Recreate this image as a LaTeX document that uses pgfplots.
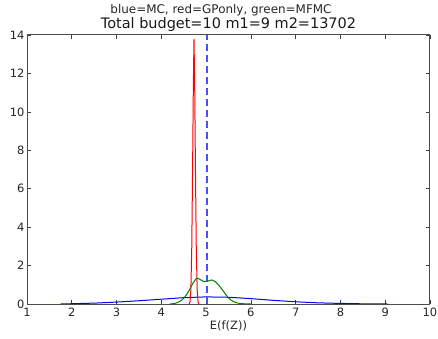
\documentclass[border=0pt]{standalone}
\usepackage{pgfplots}
\pgfplotsset{compat=1.18}
\usepackage{fontspec}
\setmainfont{DejaVu Sans}
\definecolor{mplgreen}{rgb}{0,0.5,0}
\definecolor{mplblue}{rgb}{0,0,1}
\definecolor{dashblue}{rgb}{0.3,0.3,1}
\begin{document}
\begin{tikzpicture}
\begin{axis}[
  at={(27bp,35bp)}, anchor=south west,
  scale only axis, width=403bp, height=269bp,
  xmin=1, xmax=10, ymin=0, ymax=14,
  xtick={1,2,...,10}, ytick={0,2,...,14},
  tick align=inside, major tick length=4bp,
  xtick pos=both, ytick pos=both,
  tick style={black!75, line width=0.6bp},
  axis line style={black!70, line width=1bp},
  /pgf/number format/assume math mode=true,
  tick label style={font=\fontsize{11.5}{13}\selectfont, text=black!85},
  xticklabel style={yshift=-0.5bp},
  yticklabel style={xshift=1bp},
  xlabel={E(f(Z))},
  xlabel style={font=\fontsize{11.5}{13}\selectfont, text=black!85, yshift=3bp},
  title={Total budget=10 m1=9 m2=13702},
  title style={font=\fontsize{14.5}{16}\selectfont, text=black!90, at={(0.5,1)}, anchor=base, yshift=0.5bp},
  clip=true,
]
\addplot[draw=mplblue, line width=1bp] coordinates {
(1.75,0.0) (2.0,0.015) (2.5,0.045) (3.0,0.10) (3.5,0.17) (4.0,0.25) (4.5,0.33) (5.0,0.37) (5.5,0.35) (6.0,0.28) (6.5,0.19) (7.0,0.115) (7.5,0.06) (8.0,0.03) (8.5,0.01) (9.05,0.0)
};
\addplot[draw=red, line width=1bp] coordinates {
(4.62,0) (4.64,0.1) (4.66,0.76) (4.68,3.0) (4.70,7.5) (4.715,11.4) (4.73,13.8) (4.745,11.4) (4.76,7.5) (4.78,3.0) (4.80,0.76) (4.82,0.1) (4.84,0)
};
\addplot[draw=dashblue, line width=1.1bp, dash pattern=on 7bp off 4bp] coordinates {(5.02,0) (5.02,14)};
\addplot[draw=mplgreen, line width=1bp, smooth] coordinates {
(4.19,0) (4.3,0.03) (4.4,0.12) (4.5,0.30) (4.6,0.62) (4.7,1.05) (4.78,1.32) (4.85,1.30) (4.95,1.17) (5.05,1.20) (5.12,1.25) (5.2,1.17) (5.3,0.93) (5.4,0.62) (5.5,0.32) (5.6,0.14) (5.7,0.05) (5.85,0.01) (6.02,0)
};
\end{axis}
\node[font=\fontsize{12}{13}\selectfont, text=black!85, anchor=base] at (221bp,325bp) {blue=MC, red=GPonly, green=MFMC};
\pgfresetboundingbox
\path[use as bounding box] (0,0) rectangle (438bp,339bp);
\end{tikzpicture}
\end{document}
